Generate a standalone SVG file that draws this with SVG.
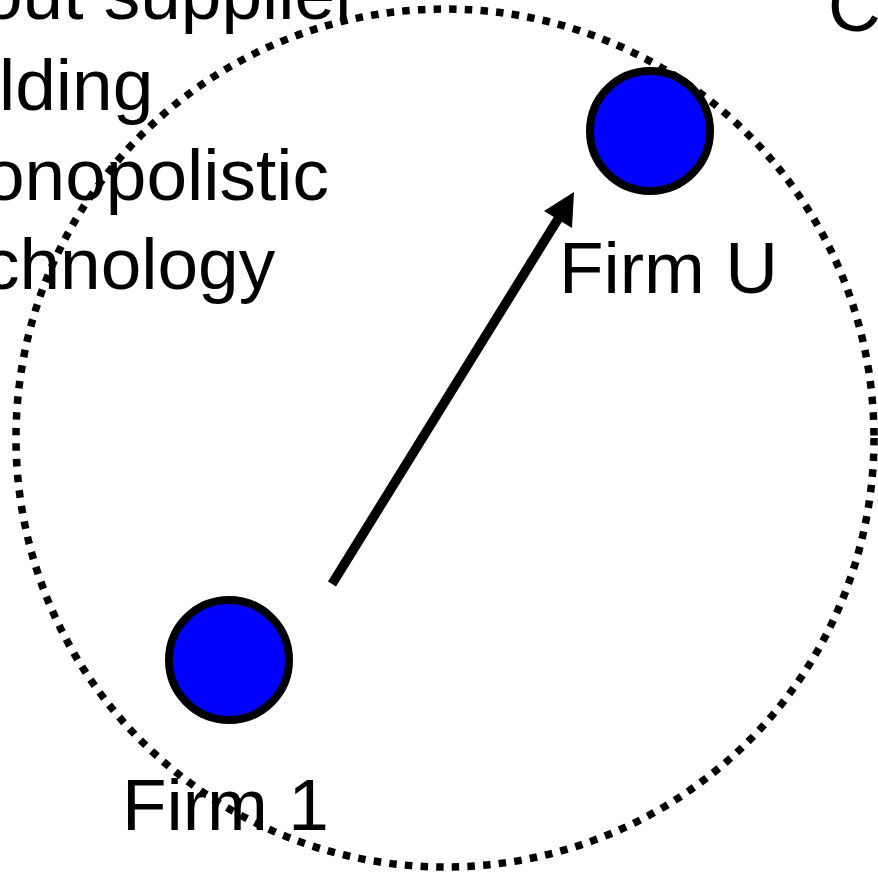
<svg xmlns="http://www.w3.org/2000/svg" width="878" height="874" viewBox="0 0 878 874">
<style>
.t{font-family:"Liberation Sans",Arial,sans-serif;font-size:73px;fill:#000}
.node{fill:#0000ff;stroke:#000;stroke-width:8}
.boundary{fill:none;stroke:#000;stroke-width:7.5;stroke-dasharray:7.5 8.2}
</style>
<rect width="878" height="874" fill="#fff"/>
<g id="label-text">
<text class="t" x="-18" y="19">out supplier</text>
<text class="t" x="-1" y="110">lding</text>
<text class="t" x="-16" y="200">onopolistic</text>
<text class="t" x="-17" y="289">chnology</text>
<text class="t" x="828" y="31">C</text>
</g>
<g id="boundary">
<circle class="boundary" cx="445" cy="438" r="429"/>
</g>
<g id="connectors">
<line x1="332" y1="584" x2="558" y2="219" stroke="#000" stroke-width="9.5"/>
<polygon points="574,192 544,211 572,228" fill="#000"/>
</g>
<g id="firm-u">
<circle class="node" cx="650" cy="131" r="60"/>
<text class="t" x="559" y="293">Firm U</text>
</g>
<g id="firm-1">
<circle class="node" cx="229" cy="660" r="60"/>
<text class="t" x="122" y="830">Firm 1</text>
</g>
</svg>
